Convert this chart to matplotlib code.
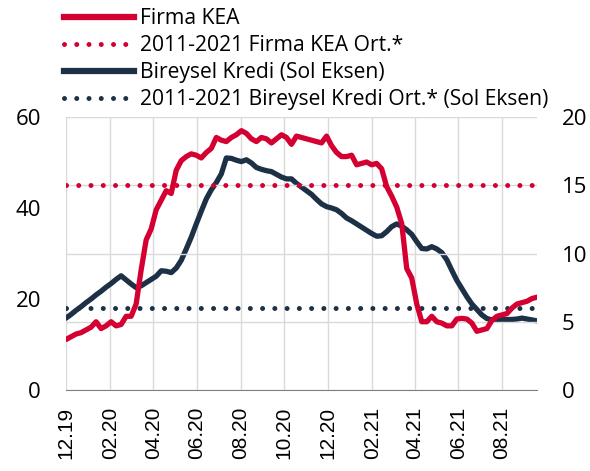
import matplotlib
matplotlib.use("Agg")
import matplotlib.pyplot as plt
import matplotlib.dates as mdates
from matplotlib.lines import Line2D
import numpy as np
import pandas as pd

# haftalik veri, 12.2019 - 09.2021
tarih = pd.date_range("2019-12-01", periods=95, freq="7D")

# Bireysel Kredi (sol eksen)
bireysel = [15.8, 16.6, 17.5, 18.3, 19.2, 20.0, 20.9, 21.7, 22.6, 23.4,
            24.3, 25.1, 24.2, 23.3, 22.5, 22.9, 23.6, 24.3, 25.0, 26.2,
            26.1, 25.8, 26.8, 28.5, 31.0, 33.6, 36.5, 39.3, 42.0, 44.0,
            45.6, 47.5, 51.0, 50.9, 50.5, 50.2, 50.6, 49.9, 48.9, 48.5,
            48.2, 48.0, 47.4, 46.8, 46.4, 46.4, 45.4, 44.6, 43.8, 43.0,
            41.9, 40.9, 40.3, 40.0, 39.6, 38.8, 37.8, 37.2, 36.5, 35.8,
            35.1, 34.4, 33.8, 33.9, 34.8, 35.9, 36.5, 36.0, 35.2, 34.2,
            32.6, 31.1, 31.0, 31.5, 31.0, 30.2, 28.6, 26.3, 24.1, 22.3,
            20.5, 18.9, 17.7, 16.5, 15.7, 15.4, 15.4, 15.5, 15.5, 15.5,
            15.6, 15.8, 15.6, 15.4, 15.2]

# Firma KEA (sag eksen)
firma = [3.7, 3.9, 4.1, 4.2, 4.4, 4.6, 5.0, 4.5, 4.7, 5.0,
         4.7, 4.8, 5.4, 5.4, 6.3, 8.8, 11.0, 11.8, 13.2, 13.9,
         14.6, 14.4, 16.1, 16.8, 17.1, 17.3, 17.2, 17.0, 17.4, 17.7,
         18.5, 18.3, 18.2, 18.5, 18.7, 19.0, 18.8, 18.4, 18.2, 18.5,
         18.4, 18.1, 18.4, 18.7, 18.5, 18.0, 18.6, 18.5, 18.4, 18.3,
         18.2, 18.1, 18.6, 17.9, 17.4, 17.1, 17.1, 17.2, 16.5, 16.6,
         16.7, 16.5, 16.6, 16.2, 14.9, 14.2, 13.4, 12.2, 8.9, 8.2,
         6.3, 5.0, 5.0, 5.4, 5.0, 4.9, 4.7, 4.7, 5.2, 5.25,
         5.2, 4.9, 4.3, 4.4, 4.5, 5.1, 5.4, 5.5, 5.6, 6.0,
         6.3, 6.4, 6.5, 6.7, 6.8]

firma_ort = 15
bireysel_ort = 18

kirmizi = "#D50032"
lacivert = "#1C3146"

fig = plt.figure(figsize=(5.9, 4.71), dpi=100)
ax = fig.add_axes([66/590, 1-390/471, (537-66)/590, (390-117)/471])
ax2 = ax.twinx()

dot = (0, (0.001, 2.45))

ax2.axhline(firma_ort, color=kirmizi, lw=3.6, ls=dot, dash_capstyle="round", zorder=3)
ax.axhline(bireysel_ort, color=lacivert, lw=3.6, ls=dot, dash_capstyle="round", zorder=3)
ax.plot(tarih, bireysel, color=lacivert, lw=3.8, zorder=4, solid_capstyle="round")
ax2.plot(tarih, firma, color=kirmizi, lw=3.8, zorder=4, solid_capstyle="round")

ax.set_ylim(0, 60)
ax2.set_ylim(0, 20)
ax.set_yticks([0, 20, 40, 60])
ax2.set_yticks([0, 5, 10, 15, 20])
ax.set_xlim(pd.Timestamp("2019-12-01"), pd.Timestamp("2021-09-19"))
ax.set_xticks(pd.date_range("2019-12-01", "2021-08-01", freq="2MS"))
ax.xaxis.set_major_formatter(mdates.DateFormatter("%m.%y"))

ax.grid(axis="x", color="#D9D9D9", lw=1)
ax2.grid(axis="y", color="#D9D9D9", lw=1)
ax.set_axisbelow(True)
ax2.set_axisbelow(True)

for a in (ax, ax2):
    for s in ["top", "left", "right", "bottom"]:
        a.spines[s].set_visible(False)
ax.spines["bottom"].set_visible(True)
ax.spines["bottom"].set_color("#808080")
ax.spines["bottom"].set_zorder(5)

ax.tick_params(axis="y", length=0, pad=18, labelsize=16)
ax2.tick_params(axis="y", length=0, pad=18, labelsize=16)
ax.tick_params(axis="x", length=0, pad=12, labelsize=15, rotation=90)
for t in ax.get_yticklabels() + ax2.get_yticklabels():
    t.set_fontfamily("Open Sans")
for t in ax.get_xticklabels():
    t.set_fontfamily("Liberation Sans")

handles = [
    Line2D([], [], color=kirmizi, lw=4.5),
    Line2D([], [], color=kirmizi, lw=3.6, ls=dot, dash_capstyle="round"),
    Line2D([], [], color=lacivert, lw=4.5),
    Line2D([], [], color=lacivert, lw=3.6, ls=dot, dash_capstyle="round"),
]
labels = ["Firma KEA", "2011-2021 Firma KEA Ort.*",
          "Bireysel Kredi (Sol Eksen)", "2011-2021 Bireysel Kredi Ort.* (Sol Eksen)"]
fig.legend(handles, labels, loc="upper left", bbox_to_anchor=(53/590, 1.005),
           frameon=False, prop={"family": "Open Sans", "size": 15.2},
           handlelength=3.35, handletextpad=0.28, labelspacing=0.28, borderaxespad=0.1)

fig.savefig("out.png", dpi=100)
